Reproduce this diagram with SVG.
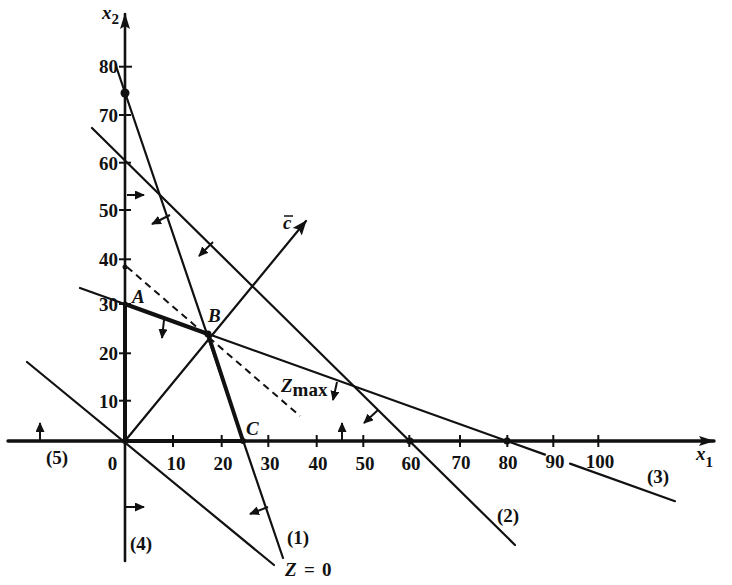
<svg xmlns="http://www.w3.org/2000/svg" width="732" height="585" viewBox="0 0 732 585">
<style>
.ln{stroke:#111;stroke-width:2.2;fill:none;stroke-linecap:round}
.thick{stroke:#111;stroke-width:4;fill:none;stroke-linecap:round}
.dash{stroke:#111;stroke-width:2;fill:none;stroke-dasharray:7 5}
.tk{stroke:#111;stroke-width:2}
.ar{stroke:#111;stroke-width:2;fill:none;marker-end:url(#ah)}
.num{font-family:"Liberation Serif",serif;font-weight:bold;font-size:19px;fill:#111}
.it{font-family:"Liberation Serif",serif;font-style:italic;font-weight:bold;font-size:19px;fill:#111}
.dot{fill:#111}
</style>
<defs>
<marker id="ah" markerUnits="userSpaceOnUse" markerWidth="10" markerHeight="9" refX="9" refY="4.5" orient="auto">
<path d="M0,0 L10,4.5 L0,9 Z" fill="#111"/>
</marker>
<marker id="big" markerUnits="userSpaceOnUse" markerWidth="15" markerHeight="12" refX="14" refY="6" orient="auto">
<path d="M0,0 L15,6 L0,12 L3,6 Z" fill="#111"/>
</marker>
<marker id="axh" markerUnits="userSpaceOnUse" markerWidth="16" markerHeight="10" refX="15" refY="5" orient="auto">
<path d="M0,0 L16,5 L0,10 L3,5 Z" fill="#111"/>
</marker>
</defs>

<g id="axes">
<line class="ln" x1="125" y1="561" x2="125" y2="14" style="stroke-width:2.6;marker-end:url(#axh)"/>
<line class="ln" x1="8" y1="441" x2="714" y2="441" style="stroke-width:3.4;marker-end:url(#axh)"/>
<g class="tk">
<line x1="119" y1="400.7" x2="131" y2="400.7"/>
<line x1="119" y1="353.3" x2="131" y2="353.3"/>
<line x1="119" y1="304" x2="131" y2="304"/>
<line x1="119" y1="259.3" x2="131" y2="259.3"/>
<line x1="119" y1="210" x2="131" y2="210"/>
<line x1="119" y1="162.7" x2="131" y2="162.7"/>
<line x1="119" y1="115" x2="131" y2="115"/>
<line x1="119" y1="66.7" x2="132" y2="66.7"/>
<line x1="173" y1="435" x2="173" y2="447"/>
<line x1="221.7" y1="435" x2="221.7" y2="447"/>
<line x1="268.3" y1="435" x2="268.3" y2="447"/>
<line x1="316.7" y1="435" x2="316.7" y2="447"/>
<line x1="363.3" y1="435" x2="363.3" y2="447"/>
<line x1="409.3" y1="435" x2="409.3" y2="447"/>
<line x1="460" y1="435" x2="460" y2="447"/>
<line x1="507.3" y1="435" x2="507.3" y2="447"/>
<line x1="553.3" y1="435" x2="553.3" y2="447"/>
<line x1="598.3" y1="435" x2="598.3" y2="447"/>
</g>
<g class="num" text-anchor="end">
<text x="118" y="407.5">10</text>
<text x="118" y="360">20</text>
<text x="118" y="311">30</text>
<text x="118" y="266">40</text>
<text x="118" y="217">50</text>
<text x="118" y="169.5">60</text>
<text x="118" y="122">70</text>
<text x="118" y="73">80</text>
</g>
<g class="num" text-anchor="middle">
<text x="112.5" y="470">0</text>
<text x="176" y="470">10</text>
<text x="223" y="470">20</text>
<text x="270" y="470">30</text>
<text x="318" y="470">40</text>
<text x="365" y="470">50</text>
<text x="411" y="470">60</text>
<text x="461" y="469">70</text>
<text x="508" y="469">80</text>
<text x="555" y="468">90</text>
<text x="600" y="468">100</text>
</g>
<text class="it" x="102" y="19" font-size="21">x<tspan font-size="15" dy="5" font-style="normal">2</tspan></text>
<text class="it" x="696" y="460" font-size="21">x<tspan font-size="15" dy="7" font-style="normal">1</tspan></text>
</g>

<g id="constraint-lines">
<line class="ln" x1="116" y1="66" x2="283" y2="558"/>
<line class="ln" x1="92" y1="128" x2="515" y2="545"/>
<line class="ln" x1="80" y1="288" x2="545" y2="454.6"/>
<line class="ln" x1="570" y1="463.6" x2="675" y2="501.2"/>
<line class="ln" x1="27" y1="362" x2="274" y2="565"/>
<line class="dash" x1="127" y1="267" x2="300" y2="416"/>
<line class="ln" x1="125" y1="441" x2="306" y2="221" style="marker-end:url(#big)"/>
</g>

<g id="feasible-region">
<line class="thick" x1="125" y1="441" x2="125" y2="304"/>
<line class="thick" x1="125" y1="304" x2="208" y2="334"/>
<line class="thick" x1="208" y1="334" x2="243" y2="441"/>
<line class="thick" x1="125" y1="441" x2="243" y2="441"/>
</g>

<g id="points">
<circle class="dot" cx="125" cy="93" r="4.5"/>
<circle class="dot" cx="125" cy="267" r="2.5"/>
<circle class="dot" cx="125" cy="304" r="2.5"/>
<circle class="dot" cx="208" cy="334" r="3.5"/>
<circle class="dot" cx="243" cy="441" r="3"/>
<circle class="dot" cx="410" cy="441" r="3.5"/>
<circle class="dot" cx="507" cy="441" r="3.5"/>
<circle class="dot" cx="125" cy="441" r="3"/>
</g>

<g id="direction-arrows">
<line class="ar" x1="127" y1="195" x2="144" y2="195"/>
<line class="ar" x1="170" y1="215" x2="152" y2="224"/>
<line class="ar" x1="213" y1="242" x2="199" y2="256"/>
<line class="ar" x1="164" y1="320" x2="162" y2="338"/>
<line class="ar" x1="337" y1="382" x2="333" y2="400"/>
<line class="ar" x1="378" y1="410" x2="364" y2="423"/>
<line class="ar" x1="342" y1="440" x2="342" y2="423"/>
<line class="ar" x1="40" y1="440" x2="40" y2="423"/>
<line class="ar" x1="126" y1="507" x2="144" y2="507"/>
<line class="ar" x1="268" y1="507" x2="250" y2="514"/>
</g>

<g id="labels">
<text class="it" x="132" y="303" font-size="19">A</text>
<text class="it" x="208" y="322" font-size="19">B</text>
<text class="it" x="246" y="435" font-size="19">C</text>
<text class="it" x="281" y="392" font-size="20">Z<tspan class="num" font-size="14" dy="4" font-style="normal">max</tspan></text>
<text class="it" x="285" y="576" font-size="20">Z</text>
<text class="num" x="304" y="576" font-size="20">=</text>
<text class="num" x="322" y="576" font-size="20">0</text>
<text class="it" x="283" y="229" font-size="19">c</text>
<line x1="284" y1="216" x2="293" y2="216" stroke="#111" stroke-width="1.5"/>
<text class="num" x="287" y="544">(1)</text>
<text class="num" x="497" y="522">(2)</text>
<text class="num" x="647" y="483">(3)</text>
<text class="num" x="130" y="550">(4)</text>
<text class="num" x="46" y="464">(5)</text>
</g>
</svg>
